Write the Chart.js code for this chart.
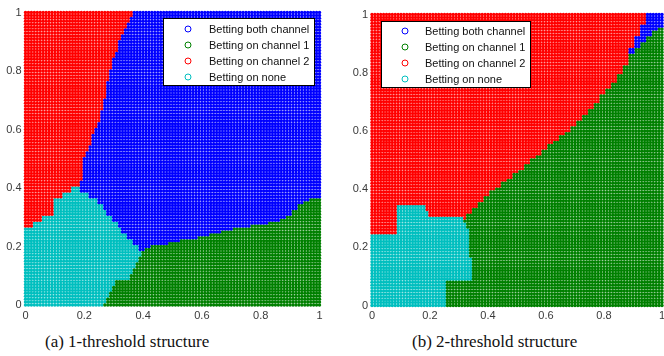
<!DOCTYPE html>
<html>
<head>
<meta charset="utf-8">
<script src="https://cdn.jsdelivr.net/npm/chart.js@4/dist/chart.umd.min.js"></script>
<style>
  html, body { margin: 0; padding: 0; background: #fff; width: 664px; height: 356px; overflow: hidden; }
  .panel { position: absolute; top: 0; height: 330px; }
  #panelA { left: 0; width: 340px; }
  #panelB { left: 340px; width: 324px; }
  .caption { position: absolute; top: 333px; font-family: "Liberation Serif", "Times New Roman", serif;
             font-size: 17px; line-height: 17px; color: #111; white-space: nowrap; }
</style>
</head>
<body>
<div class="panel" id="panelA"><canvas id="chartA" width="340" height="330"></canvas></div>
<div class="panel" id="panelB"><canvas id="chartB" width="324" height="330"></canvas></div>
<div class="caption" style="left:45px">(a) 1-threshold structure</div>
<div class="caption" style="left:412px">(b) 2-threshold structure</div>
<script>
// Series (policy regions) in legend order
const seriesNames  = ['Betting both channel', 'Betting on channel 1', 'Betting on channel 2', 'Betting on none'];
const seriesColors = ['#0000ff', '#008000', '#ff0000', '#00bfbf'];

// Axis ticks shared by both panels
const tickValues = [0, 0.2, 0.4, 0.6, 0.8, 1];
const tickLabels = ['0', '0.2', '0.4', '0.6', '0.8', '1'];

// Belief grid: 101 x 101 points, step 0.01 on both axes
const gridCount = 101;

// Region boundaries, sampled every 0.02 (51 entries, index i -> value 0.02*i).
// Arrays named ...ByY are indexed by the y row, ...ByX by the x column; null = region absent.

// (a) 1-threshold structure
const noneLeftA_ByY = [
  0, 0, 0, 0, 0, 0, 0, 0, 0, 0, 0, 0, 0, 0, 0.03, 0.06, 0.095, 0.095, 0.10, 0.13, 0.16,
  null, null, null, null, null, null, null, null, null, null, null, null, null, null, null,
  null, null, null, null, null, null, null, null, null, null, null, null, null, null, null
];
const noneRightA_ByY = [
  0.265, 0.275, 0.287, 0.295, 0.30, 0.35, 0.36, 0.372, 0.385, 0.39, 0.38, 0.36, 0.34, 0.32, 0.31,
  0.29, 0.27, 0.26, 0.24, 0.21, 0.18,
  null, null, null, null, null, null, null, null, null, null, null, null, null, null, null,
  null, null, null, null, null, null, null, null, null, null, null, null, null, null, null
];
const ch2RightA_ByY = [
  null, null, null, null, null, null, null, null, null, null, null, null, null,
  0.18, 0.18, 0.18, 0.18, 0.18, 0.18, 0.18, 0.18,
  0.185, 0.19, 0.19, 0.195, 0.198, 0.205, 0.21, 0.22, 0.228, 0.235, 0.243, 0.25, 0.255, 0.26,
  0.265, 0.27, 0.273, 0.277, 0.281, 0.285, 0.29, 0.296, 0.303, 0.31, 0.318, 0.325, 0.332, 0.345,
  0.355, 0.365
];
const ch1TopA_ByX = [
  0.17, 0.17, 0.17, 0.17, 0.17, 0.17, 0.17, 0.17, 0.17, 0.17, 0.17, 0.17, 0.17, 0.17, 0.17, 0.17,
  0.17, 0.17, 0.17, 0.17, 0.18, 0.19, 0.20, 0.205, 0.208, 0.21, 0.215, 0.22, 0.225, 0.228, 0.23,
  0.236, 0.242, 0.248, 0.252, 0.255, 0.26, 0.263, 0.266, 0.27, 0.275, 0.279, 0.283, 0.287, 0.293,
  0.30, 0.32, 0.345, 0.355, 0.36, 0.36
];

// (b) 2-threshold structure
const noneLeftB_ByY = [
  0, 0, 0, 0, 0, 0, 0, 0, 0, 0, 0, 0, 0, 0.09, 0.09, 0.09, 0.09, 0.09,
  null, null, null, null, null, null, null, null, null, null, null, null, null, null, null,
  null, null, null, null, null, null, null, null, null, null, null, null, null, null, null, null, null, null
];
const noneRightB_ByY = [
  0.25, 0.25, 0.25, 0.25, 0.25, 0.34, 0.345, 0.345, 0.34, 0.335, 0.335, 0.332, 0.33, 0.33, 0.325,
  0.31, 0.19, 0.185,
  null, null, null, null, null, null, null, null, null, null, null, null, null, null, null,
  null, null, null, null, null, null, null, null, null, null, null, null, null, null, null, null, null, null
];
const ch1TopB_ByX = [
  null, null, null, null, null, null, null, null, null, null, null, null,
  0.29, 0.29, 0.29, 0.29, 0.29, 0.315, 0.33, 0.35, 0.37, 0.39, 0.405, 0.42, 0.435, 0.45, 0.467,
  0.483, 0.50, 0.517, 0.533, 0.55, 0.566, 0.582, 0.598, 0.615, 0.635, 0.655, 0.675, 0.697, 0.72,
  0.743, 0.767, 0.79, 0.82, 0.86, 0.88, 0.90, 0.92, 0.94, 0.955
];
const bothTopB_ByX = [
  null, null, null, null, null, null, null, null, null, null, null, null, null, null, null, null, null,
  null, null, null, null, null, null, null, null, null, null, null, null, null, null, null, null, null,
  null, null, null, null, null, null, null, null, null, null, null,
  0.885, 0.92, 0.96, 1.0, 1.0, 1.0
];

// grid index (0..100) -> boundary sample index (0..50)
const sample = (arr, k) => arr[Math.round(k / 2)];

// Region index per grid point: 0 both, 1 channel 1, 2 channel 2, 3 none
function regionA(kx, ky) {
  const x = kx / 100, y = ky / 100;
  const nl = sample(noneLeftA_ByY, ky), nr = sample(noneRightA_ByY, ky);
  if (nl !== null && x >= nl && x <= nr) return 3;
  const rr = sample(ch2RightA_ByY, ky);
  if (rr !== null && x <= rr) return 2;
  if (y <= sample(ch1TopA_ByX, kx)) return 1;
  return 0;
}
function regionB(kx, ky) {
  const x = kx / 100, y = ky / 100;
  const nl = sample(noneLeftB_ByY, ky), nr = sample(noneRightB_ByY, ky);
  if (nl !== null && x >= nl && x <= nr) return 3;
  const gt = sample(ch1TopB_ByX, kx);
  if (gt !== null && y <= gt) return 1;
  const bt = sample(bothTopB_ByX, kx);
  if (bt !== null && y <= bt) return 0;
  return 2;
}

function buildDatasets(regionOf) {
  const groups = seriesNames.map(() => []);
  for (let ky = 0; ky < gridCount; ky++) {
    for (let kx = 0; kx < gridCount; kx++) {
      groups[regionOf(kx, ky)].push({ x: kx / 100, y: ky / 100 });
    }
  }
  return seriesNames.map((name, i) => ({
    label: name,
    data: groups[i],
    backgroundColor: seriesColors[i],
    borderColor: seriesColors[i],
    pointRadius: 1.72,
    pointBorderWidth: 0,
    pointHoverRadius: 1.72,
    clip: 6
  }));
}

// Boxed legend drawn inside the plot area
const insideLegend = {
  id: 'insideLegend',
  afterDatasetsDraw(chart, args, o) {
    const ctx = chart.ctx;
    ctx.save();
    ctx.fillStyle = '#ffffff';
    ctx.fillRect(o.x, o.y, o.w, o.h);
    ctx.strokeStyle = '#000000';
    ctx.lineWidth = 1;
    ctx.strokeRect(o.x + 0.5, o.y + 0.5, o.w - 1, o.h - 1);
    ctx.font = '11px "Liberation Sans", Arial, sans-serif';
    ctx.textBaseline = 'middle';
    ctx.textAlign = 'left';
    chart.data.datasets.forEach((ds, i) => {
      const cy = o.firstRow + i * o.rowGap;
      ctx.beginPath();
      ctx.arc(o.markerX, cy, 3, 0, Math.PI * 2);
      ctx.strokeStyle = ds.borderColor;
      ctx.stroke();
      ctx.fillStyle = '#111111';
      ctx.fillText(ds.label, o.textX, cy + 0.5);
    });
    ctx.restore();
  }
};

const tickFont = { family: '"Liberation Sans", Arial, sans-serif', size: 11 };

function axis(isX, fixedSize) {
  return {
    type: 'linear', min: 0, max: 1,
    grid: { display: false, drawTicks: false, tickLength: 0 },
    border: { display: false },
    afterBuildTicks: s => { s.ticks = tickValues.map(v => ({ value: v })); },
    ticks: {
      callback: (v, i) => tickLabels[i],
      color: '#3a3a3a', font: tickFont, padding: isX ? 4 : 4,
      autoSkip: false, maxRotation: 0
    },
    afterFit: s => {
      if (isX) { s.height = fixedSize; s.paddingLeft = 0; s.paddingRight = 0; }
      else { s.width = fixedSize; s.paddingTop = 0; s.paddingBottom = 0; }
    }
  };
}

function makeChart(id, regionOf, pad, yAxisWidth, xAxisHeight, legendOpts) {
  return new Chart(document.getElementById(id), {
    type: 'scatter',
    data: { datasets: buildDatasets(regionOf) },
    options: {
      responsive: false,
      animation: false,
      events: [],
      layout: { padding: pad },
      plugins: { legend: { display: false }, tooltip: { enabled: false }, insideLegend: legendOpts },
      scales: { x: axis(true, xAxisHeight), y: axis(false, yAxisWidth) }
    },
    plugins: [insideLegend]
  });
}

makeChart('chartA', regionA, { top: 12.5, right: 20.5, left: 0, bottom: 0 }, 25.5, 25,
  { x: 163, y: 18, w: 152, h: 68, markerX: 188, textX: 209, firstRow: 29, rowGap: 16 });
makeChart('chartB', regionB, { top: 14.5, right: 2, left: 0, bottom: 0 }, 32, 24.5,
  { x: 41, y: 21, w: 150, h: 67, markerX: 65, textX: 85, firstRow: 31, rowGap: 16 });
</script>
</body>
</html>
